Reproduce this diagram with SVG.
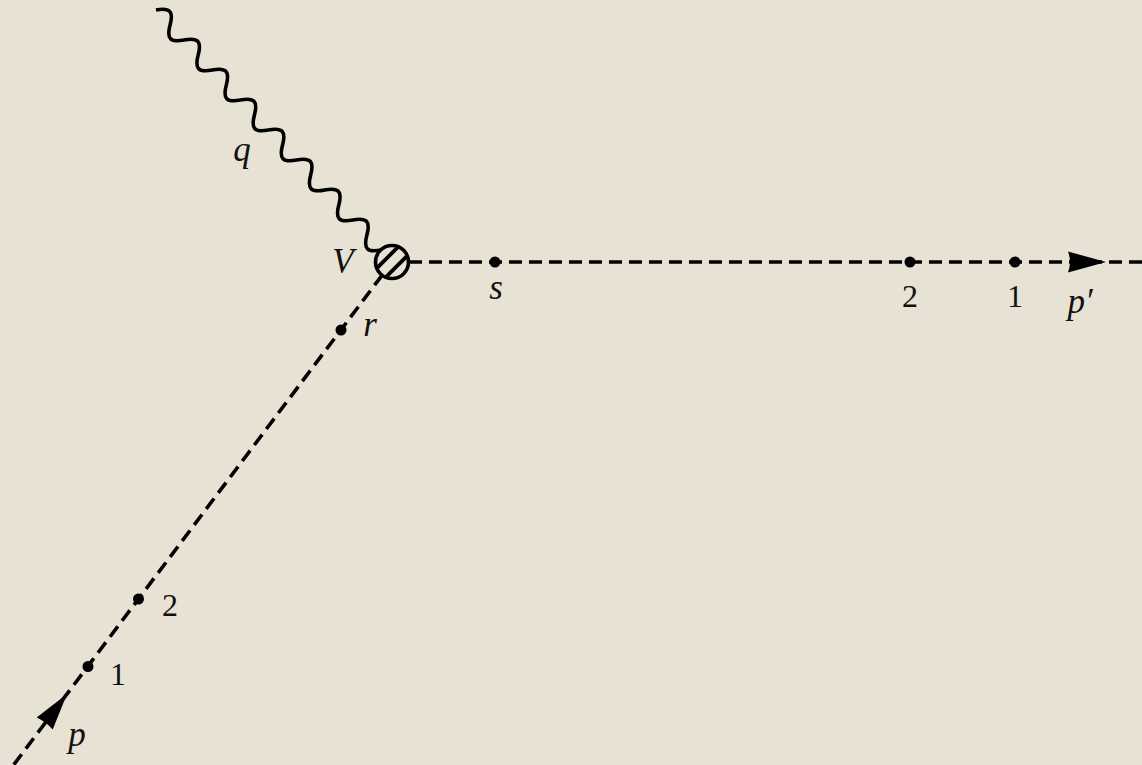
<svg xmlns="http://www.w3.org/2000/svg" width="1142" height="765" viewBox="0 0 1142 765">
  <defs>
    <style>
      .bg { fill: #e8e2d4; }
      .line { fill: none; stroke: #000; stroke-width: 3.6; }
      .dash { stroke-dasharray: 13 7; }
      .dot { fill: #000; }
      .arrow { fill: #000; stroke: none; }
      .lbl { font-family: "Liberation Serif", "Times New Roman", "DejaVu Serif", serif; font-size: 32px; fill: #111; text-anchor: middle; }
      .it { font-style: italic; font-size: 35px; }
    </style>
    <clipPath id="vclip">
      <circle cx="392" cy="262" r="16.5"/>
    </clipPath>
  </defs>

  <rect class="bg" x="0" y="0" width="1142" height="765"/>

  <g id="connectors">
    <path class="line" stroke-width="4" transform="translate(156,10) rotate(46.85)"
      d="M0 0 c7.4 -12 13.2 -12 20.56 0 c7.4 12 13.2 12 20.56 0 c7.4 -12 13.2 -12 20.56 0 c7.4 12 13.2 12 20.56 0 c7.4 -12 13.2 -12 20.56 0 c7.4 12 13.2 12 20.56 0 c7.4 -12 13.2 -12 20.56 0 c7.4 12 13.2 12 20.56 0 c7.4 -12 13.2 -12 20.56 0 c7.4 12 13.2 12 20.56 0 c7.4 -12 13.2 -12 20.56 0 c7.4 12 13.2 12 20.56 0 c7.4 -12 13.2 -12 20.56 0 c7.4 12 13.2 12 20.56 0 c7.4 -12 13.2 -12 20.56 0 c7.4 12 13.2 12 20.56 0"/>
    <path class="line dash" d="M382.4 274.8 L0 783"/>
    <path class="line dash" d="M409 262 L1142 262"/>
    <path class="arrow" d="M67 694 L52.7 729.6 Q46 722 36.7 717.6 Z"/>
    <path class="arrow" d="M1106 262 L1068 251.5 Q1072 262 1068 272.5 Z"/>
  </g>

  <g id="vertex-V">
    <circle cx="392" cy="262" r="16.5" fill="#e8e2d4"/>
    <g clip-path="url(#vclip)" stroke="#000" stroke-width="3.8">
      <line x1="362" y1="283" x2="404" y2="241"/>
      <line x1="371" y1="292" x2="413" y2="250"/>
      <line x1="353" y1="274" x2="395" y2="232"/>
      <line x1="380" y1="301" x2="422" y2="259"/>
    </g>
    <circle class="line" cx="392" cy="262" r="16.5"/>
  </g>

  <g id="labels">
    <g id="label-V"><text class="lbl it" x="343" y="273">V</text></g>
    <g id="label-q"><text class="lbl it" x="242" y="161">q</text></g>
    <g id="label-r"><text class="lbl it" x="370" y="336">r</text></g>
    <g id="label-in-2"><text class="lbl" x="170" y="616">2</text></g>
    <g id="label-in-1"><text class="lbl" x="118" y="685">1</text></g>
    <g id="label-p"><text class="lbl it" x="77" y="746">p</text></g>
    <g id="label-s"><text class="lbl it" x="496" y="299">s</text></g>
    <g id="label-out-2"><text class="lbl" x="910" y="307">2</text></g>
    <g id="label-out-1"><text class="lbl" x="1015" y="307">1</text></g>
    <g id="label-p-prime"><text class="lbl it" x="1080" y="313">p′</text></g>
  </g>

  <g id="points">
    <circle id="point-r" class="dot" cx="341" cy="330" r="5.5"/>
    <circle id="point-in-2" class="dot" cx="138.5" cy="599" r="5.5"/>
    <circle id="point-in-1" class="dot" cx="88" cy="666.5" r="5.5"/>
    <circle id="point-s" class="dot" cx="495" cy="262" r="5.5"/>
    <circle id="point-out-2" class="dot" cx="910" cy="262" r="5.5"/>
    <circle id="point-out-1" class="dot" cx="1015" cy="262" r="5.5"/>
  </g>
</svg>
